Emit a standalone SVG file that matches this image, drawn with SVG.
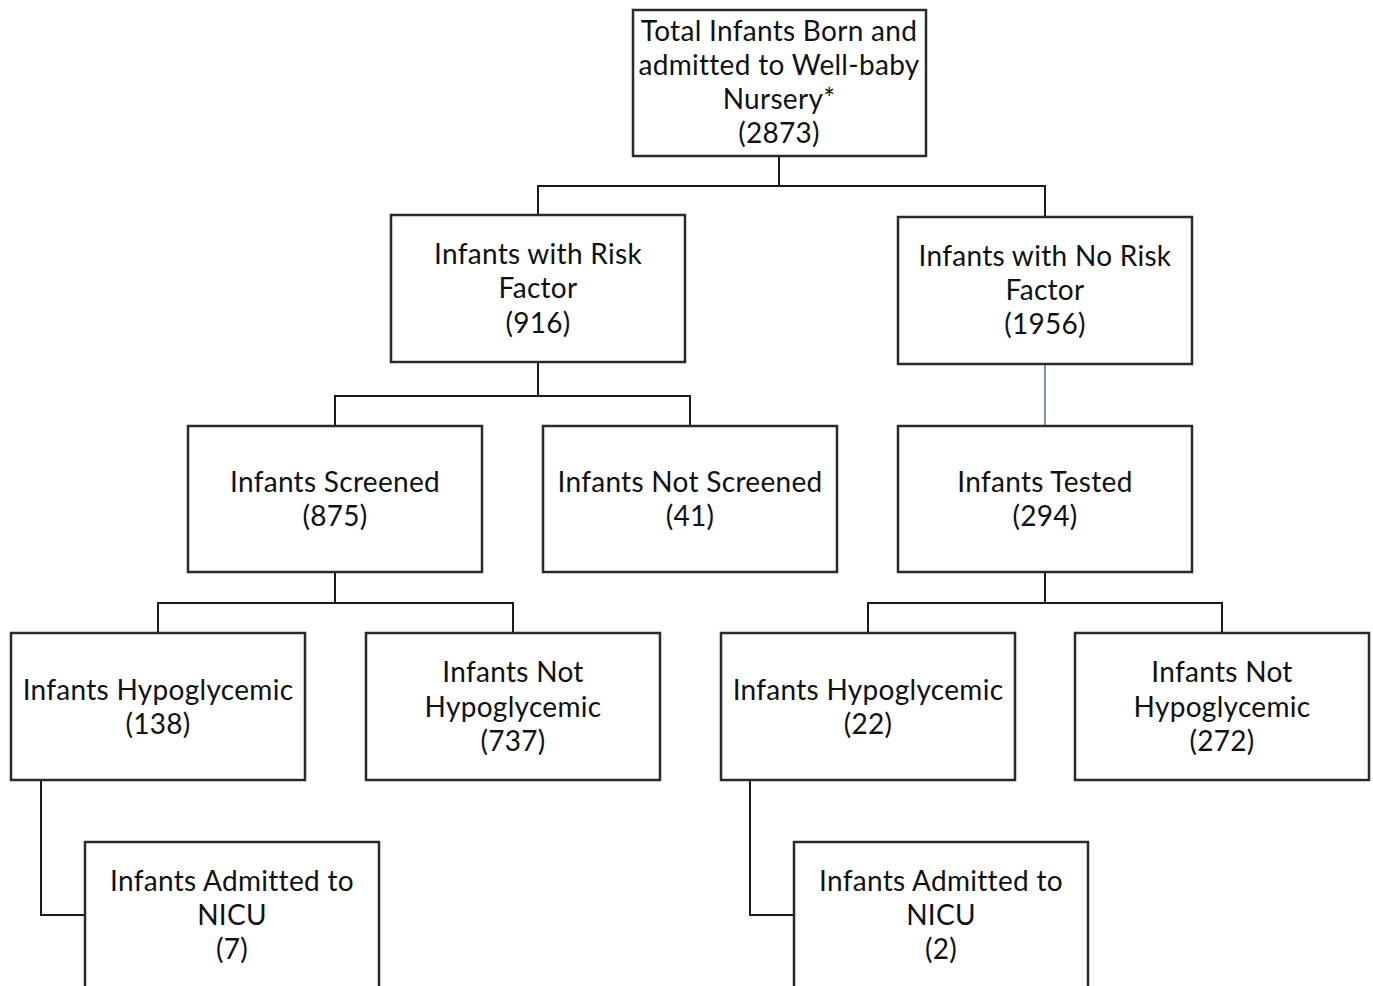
<svg xmlns="http://www.w3.org/2000/svg" width="1373" height="986" viewBox="0 0 1373 986">
<style>
.box{fill:#fff;stroke:#2a2a2a;stroke-width:2.5}
.t{font-family:Lato,"Open Sans",sans-serif;font-size:28px;letter-spacing:0.3px;fill:#111;text-anchor:middle}
.c{fill:none;stroke:#1a1a1a;stroke-width:2}
.b{fill:none;stroke:#4a6fb0;stroke-width:1.5}
</style>
<rect width="1373" height="986" fill="#fff"/>
<g id="connectors">
<path class="c" d="M779,156V186M538,215V186H1045V217"/>
<path class="c" d="M538,362V396M335,426V396H690V426"/>
<path class="b" d="M1045,364V426"/>
<path class="c" d="M335,572V603M158,633V603H513V633"/>
<path class="c" d="M1045,572V603M868,633V603H1222V633"/>
<path class="c" d="M41,780V915H85"/>
<path class="c" d="M750,780V915H794"/>
</g>
<g id="total"><rect class="box" x="633" y="10" width="293" height="146"/>
<text class="t" x="779" y="41">Total Infants Born and</text>
<text class="t" x="779" y="75">admitted to Well-baby</text>
<text class="t" x="779" y="109">Nursery*</text>
<text class="t" x="779" y="143">(2873)</text></g>
<g id="risk"><rect class="box" x="391" y="215" width="294" height="147"/>
<text class="t" x="538" y="264">Infants with Risk</text>
<text class="t" x="538" y="298">Factor</text>
<text class="t" x="538" y="333">(916)</text></g>
<g id="norisk"><rect class="box" x="898" y="217" width="294" height="147"/>
<text class="t" x="1045" y="266">Infants with No Risk</text>
<text class="t" x="1045" y="300">Factor</text>
<text class="t" x="1045" y="334">(1956)</text></g>
<g id="screened"><rect class="box" x="188" y="426" width="294" height="146"/>
<text class="t" x="335" y="492">Infants Screened</text>
<text class="t" x="335" y="526">(875)</text></g>
<g id="notscreened"><rect class="box" x="543" y="426" width="294" height="146"/>
<text class="t" x="690" y="492">Infants Not Screened</text>
<text class="t" x="690" y="526">(41)</text></g>
<g id="tested"><rect class="box" x="898" y="426" width="294" height="146"/>
<text class="t" x="1045" y="492">Infants Tested</text>
<text class="t" x="1045" y="526">(294)</text></g>
<g id="hypo1"><rect class="box" x="11" y="633" width="294" height="147"/>
<text class="t" x="158" y="700">Infants Hypoglycemic</text>
<text class="t" x="158" y="734">(138)</text></g>
<g id="nothypo1"><rect class="box" x="366" y="633" width="294" height="147"/>
<text class="t" x="513" y="682">Infants Not</text>
<text class="t" x="513" y="717">Hypoglycemic</text>
<text class="t" x="513" y="751">(737)</text></g>
<g id="hypo2"><rect class="box" x="721" y="633" width="294" height="147"/>
<text class="t" x="868" y="700">Infants Hypoglycemic</text>
<text class="t" x="868" y="734">(22)</text></g>
<g id="nothypo2"><rect class="box" x="1075" y="633" width="294" height="147"/>
<text class="t" x="1222" y="682">Infants Not</text>
<text class="t" x="1222" y="717">Hypoglycemic</text>
<text class="t" x="1222" y="751">(272)</text></g>
<g id="nicu1"><rect class="box" x="85" y="842" width="294" height="160"/>
<text class="t" x="232" y="891">Infants Admitted to</text>
<text class="t" x="232" y="925">NICU</text>
<text class="t" x="232" y="959">(7)</text></g>
<g id="nicu2"><rect class="box" x="794" y="842" width="294" height="160"/>
<text class="t" x="941" y="891">Infants Admitted to</text>
<text class="t" x="941" y="925">NICU</text>
<text class="t" x="941" y="959">(2)</text></g>
</svg>
